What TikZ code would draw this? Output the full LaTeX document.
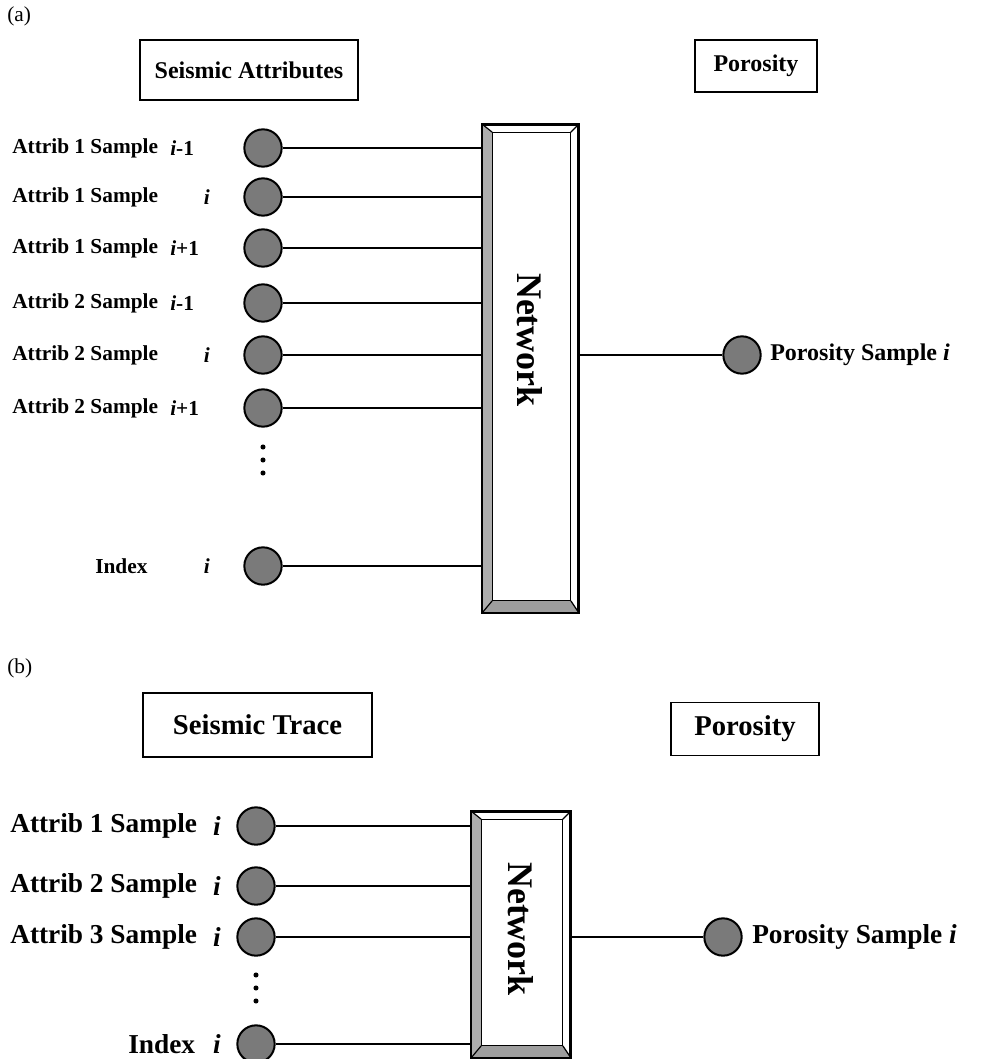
\documentclass[tikz,border=0pt]{standalone}
\usepackage{fontspec}
\setmainfont{Liberation Serif}
\usetikzlibrary{calc}
\newcommand\netbevel[1]{%
  \fill[black!32] (#1.north west) -- (#1.south west) -- ($(#1.south west)+(10,-12)$) -- ($(#1.north west)+(10,8)$) -- cycle;
  \fill[black!38] (#1.south west) -- (#1.south east) -- ($(#1.south east)+(-8,-12)$) -- ($(#1.south west)+(10,-12)$) -- cycle;
  \draw[line width=0.9pt] ($(#1.north west)+(10,8)$) rectangle ($(#1.south east)+(-8,-12)$);
  \draw[line width=0.9pt] (#1.north west) -- ($(#1.north west)+(10,8)$)
    (#1.north east) -- ($(#1.north east)+(-8,8)$)
    (#1.south east) -- ($(#1.south east)+(-8,-12)$)
    (#1.south west) -- ($(#1.south west)+(10,-12)$);
  \draw[line width=1.3pt] (#1.north west) rectangle (#1.south east);
}
\begin{document}
\begin{tikzpicture}[x=0.75pt,y=-0.75pt,
  lbl/.style={font=\bfseries\fontsize{16}{19}\selectfont, inner sep=0},
  lblb/.style={font=\bfseries\fontsize{20.5}{24}\selectfont, inner sep=0},
  tag/.style={font=\fontsize{16}{19}\selectfont, inner sep=0, anchor=west},
  hdr/.style={draw, line width=1.1pt, font=\bfseries\fontsize{18}{22}\selectfont, inner sep=0},
  hdrb/.style={hdr, font=\bfseries\fontsize{21.5}{25}\selectfont},
  ball/.style={circle, draw=black, line width=1.5pt, fill=black!52, minimum size=28pt, inner sep=0},
  dotmark/.style={circle, fill=black, minimum size=3.8pt, inner sep=0},
  wire/.style={line width=1.3pt},
  netbox/.style={draw, line width=1.3pt, rectangle, inner sep=0, fill=white},
  nettext/.style={font=\bfseries\fontsize{27}{31}\selectfont, rotate=-90, inner sep=0}
]
\useasboundingbox (0,0) rectangle (984,1059);

% ---------------- (a) ----------------
\node[tag] (tA) at (7,16) {(a)};
\node[hdr, minimum width=163.5pt, minimum height=45pt] (hSA) at (249,70) {Seismic Attributes};
\node[hdr, minimum width=91.5pt, minimum height=39pt] (hPA) at (756,66) {Porosity};

\node[netbox, minimum width=71.25pt, minimum height=365.25pt] (netA) at (530.5,368.5) {};
\netbevel{netA}
\node[nettext] (ntA) at (530,340) {Network};

\node[ball] (a1) at (263,148) {};
\node[ball] (a2) at (263,197) {};
\node[ball] (a3) at (263,248) {};
\node[ball] (a4) at (263,303) {};
\node[ball] (a5) at (263,355) {};
\node[ball] (a6) at (263,408) {};
\node[ball] (a7) at (263,566) {};

\node[lbl, anchor=west] (la1) at (12,148) {Attrib 1 Sample};
\node[lbl, anchor=west] (sa1) at (170,148) {\textit{i}-1};
\node[lbl, anchor=west] (la2) at (12,197) {Attrib 1 Sample};
\node[lbl, anchor=east] (sa2) at (210,197) {\textit{i}};
\node[lbl, anchor=west] (la3) at (12,248) {Attrib 1 Sample};
\node[lbl, anchor=west] (sa3) at (170,248) {\textit{i}+1};
\node[lbl, anchor=west] (la4) at (12,303) {Attrib 2 Sample};
\node[lbl, anchor=west] (sa4) at (170,303) {\textit{i}-1};
\node[lbl, anchor=west] (la5) at (12,355) {Attrib 2 Sample};
\node[lbl, anchor=east] (sa5) at (210,355) {\textit{i}};
\node[lbl, anchor=west] (la6) at (12,408) {Attrib 2 Sample};
\node[lbl, anchor=west] (sa6) at (170,408) {\textit{i}+1};
\node[lbl, anchor=west] (la7) at (95,566) {Index};
\node[lbl, anchor=east] (sa7) at (210,566) {\textit{i}};

\node[dotmark] (da1) at (263,447) {};
\node[dotmark] (da2) at (263,460) {};
\node[dotmark] (da3) at (263,473) {};

\foreach \n in {a1,a2,a3,a4,a5,a6,a7}
  \draw[wire] (\n) -- (\n -| netA.west);

\node[ball] (oA) at (742,355) {};
\node[lbl, anchor=west, font=\bfseries\fontsize{18}{22}\selectfont] (loA) at (770,355) {Porosity Sample \textit{i}};
\draw[wire] (oA -| netA.east) -- (oA);

% ---------------- (b) ----------------
\node[tag] (tB) at (7,668) {(b)};
\node[hdrb, minimum width=171.75pt, minimum height=48pt] (hSB) at (257.5,725) {Seismic Trace};
\node[hdrb, minimum width=111pt, minimum height=40pt] (hPB) at (745,729) {Porosity};

\node[netbox, minimum width=73.5pt, minimum height=183.75pt] (netB) at (521,934.5) {};
\netbevel{netB}
\node[nettext] (ntB) at (521,929) {Network};

\node[ball] (b1) at (256,826) {};
\node[ball] (b2) at (256,886) {};
\node[ball] (b3) at (256,937) {};
\node[ball] (b4) at (256,1044) {};

\node[lblb, anchor=west] (lb1) at (10,826) {Attrib 1 Sample};
\node[lblb, anchor=east] (sb1) at (221,826) {\textit{i}};
\node[lblb, anchor=west] (lb2) at (10,886) {Attrib 2 Sample};
\node[lblb, anchor=east] (sb2) at (221,886) {\textit{i}};
\node[lblb, anchor=west] (lb3) at (10,937) {Attrib 3 Sample};
\node[lblb, anchor=east] (sb3) at (221,937) {\textit{i}};
\node[lblb, anchor=west] (lb4) at (128,1044) {Index};
\node[lblb, anchor=east] (sb4) at (221,1044) {\textit{i}};

\node[dotmark] (db1) at (256,975) {};
\node[dotmark] (db2) at (256,988) {};
\node[dotmark] (db3) at (256,1001) {};

\foreach \n in {b1,b2,b3,b4}
  \draw[wire] (\n) -- (\n -| netB.west);

\node[ball] (oB) at (723,937) {};
\node[lblb, anchor=west] (loB) at (752,937) {Porosity Sample \textit{i}};
\draw[wire] (oB -| netB.east) -- (oB);
\end{tikzpicture}
\end{document}
